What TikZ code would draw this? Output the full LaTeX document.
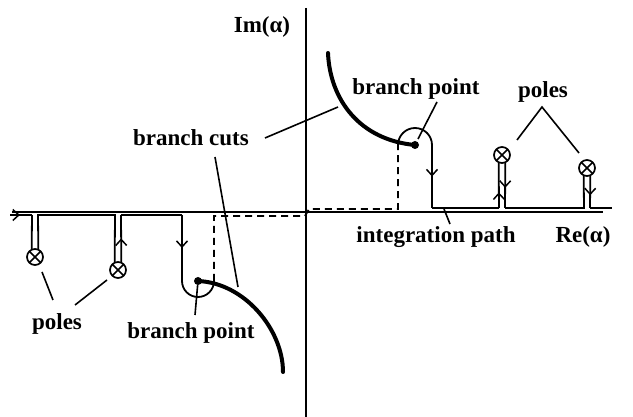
\documentclass[tikz,border=0pt]{standalone}
\usepackage{fontspec}
\setmainfont{Liberation Serif}
\usetikzlibrary{arrows.meta,decorations.markings}
\begin{document}
\begin{tikzpicture}[x=1pt,y=-1pt,
  axis/.style={line width=1.8pt},
  route/.style={line width=1.8pt},
  hidden/.style={line width=1.8pt,dash pattern=on 7pt off 5pt},
  cut/.style={line width=4pt,line cap=round},
  leader/.style={line width=1.6pt},
  lbl/.style={font=\fontsize{23}{25}\selectfont\bfseries,inner sep=0pt,anchor=base},
  pole/.style={circle,draw,line width=1.7pt,minimum size=16pt,inner sep=0pt,
    path picture={\draw[line width=1.6pt]
      (path picture bounding box.north west) -- (path picture bounding box.south east)
      (path picture bounding box.north east) -- (path picture bounding box.south west);}},
  bpt/.style={circle,fill,inner sep=0pt,minimum size=8pt},
  barb/.style={postaction={decorate},decoration={markings,
    mark=at position #1 with {\arrow{Straight Barb[length=6pt,width=11pt,line width=1.5pt]}}}}
]
\useasboundingbox (0,0) rectangle (633,417);

% axes
\coordinate (reL) at (12,212);
\coordinate (reR) at (603,212);
\coordinate (imT) at (306,8);
\coordinate (imB) at (306,417);
\draw[axis] (reL) -- (reR);
\draw[axis] (imT) -- (imB);

% poles and branch points
\node[pole] (p1) at (35,257) {};
\node[pole] (p2) at (118,270) {};
\node[pole] (p3) at (502,155) {};
\node[pole] (p4) at (587,168) {};
\node[bpt] (b1) at (198,281) {};
\node[bpt] (b2) at (415,145) {};

% branch cuts
\draw[cut] (b1.center) .. controls (245,283) and (283,330) .. (283,372) coordinate (c1end);
\draw[cut] (b2.center) .. controls (360,140) and (330,100) .. (328,53) coordinate (c2end);

% integration path, left half (below the real axis)
\coordinate (s0) at (10,215);
\coordinate (s1) at (32,215);
\coordinate (s2) at (38,215);
\coordinate (s3) at (115,215);
\coordinate (s4) at (121,215);
\coordinate (s5) at (182,215);
\coordinate (s6) at (182,281);
\coordinate (s7) at (214,281);
\draw[route,barb=0.45] (s0) -- (s1);
\draw[route] (s1) -- (p1.112);
\draw[route] (p1.68) -- (s2) -- (s3) -- (p2.112);
\draw[route,barb=0.5] (p2.68) -- (s4);
\draw[route] (s4) -- (s5);
\draw[route,barb=0.5] (s5) -- (s6);
\draw[route] (s6) arc[start angle=180,end angle=0,radius=16];

% part of the path on the lower sheet
\coordinate (d1) at (214,216);
\coordinate (d2) at (305,216);
\coordinate (d3) at (309,209);
\coordinate (d4) at (398,209);
\coordinate (d5) at (398,145);
\draw[hidden] (s7) -- (d1) -- (d2) -- (d3) -- (d4) -- (d5);

% integration path, right half (above the real axis)
\coordinate (r1) at (432,145);
\coordinate (r2) at (432,208);
\coordinate (r3) at (499,208);
\coordinate (r4) at (505,208);
\coordinate (r5) at (584,208);
\coordinate (r6) at (590,208);
\coordinate (r7) at (612,208);
\draw[route] (d5) arc[start angle=180,end angle=360,radius=17];
\draw[route,barb=0.5] (r1) -- (r2);
\draw[route] (r2) -- (r3);
\draw[route,barb=0.35] (r3) -- (p3.248);
\draw[route,barb=0.55] (p3.292) -- (r4);
\draw[route] (r4) -- (r5) -- (p4.248);
\draw[route,barb=0.6] (p4.292) -- (r6);
\draw[route] (r6) -- (r7);

% labels
\node[lbl] (im) at (262,33) {Im(α)};
\node[lbl] (re) at (583,243) {Re(α)};
\node[lbl] (bpu) at (416,95) {branch point};
\node[lbl] (plu) at (543,98) {poles};
\node[lbl] (bcu) at (191,146) {branch cuts};
\node[lbl] (ip) at (436,243) {integration path};
\node[lbl] (pll) at (57,330) {poles};
\node[lbl] (bpl) at (191,338) {branch point};

% leader lines
\coordinate (lbp1) at (437,102);
\draw[leader] (lbp1) -- (418,139);
\coordinate (apex) at (542,107);
\draw[leader] (517,140) -- (apex) -- (579,153);
\draw[leader] (265,138) -- (338,107);
\draw[leader] (215,157) -- (238,287);
\draw[leader] (450,224) -- (444,209);
\draw[leader] (53,300) -- (42,272);
\draw[leader] (75,305) -- (107,280);
\draw[leader] (195,315) -- (b1);
\end{tikzpicture}
\end{document}
